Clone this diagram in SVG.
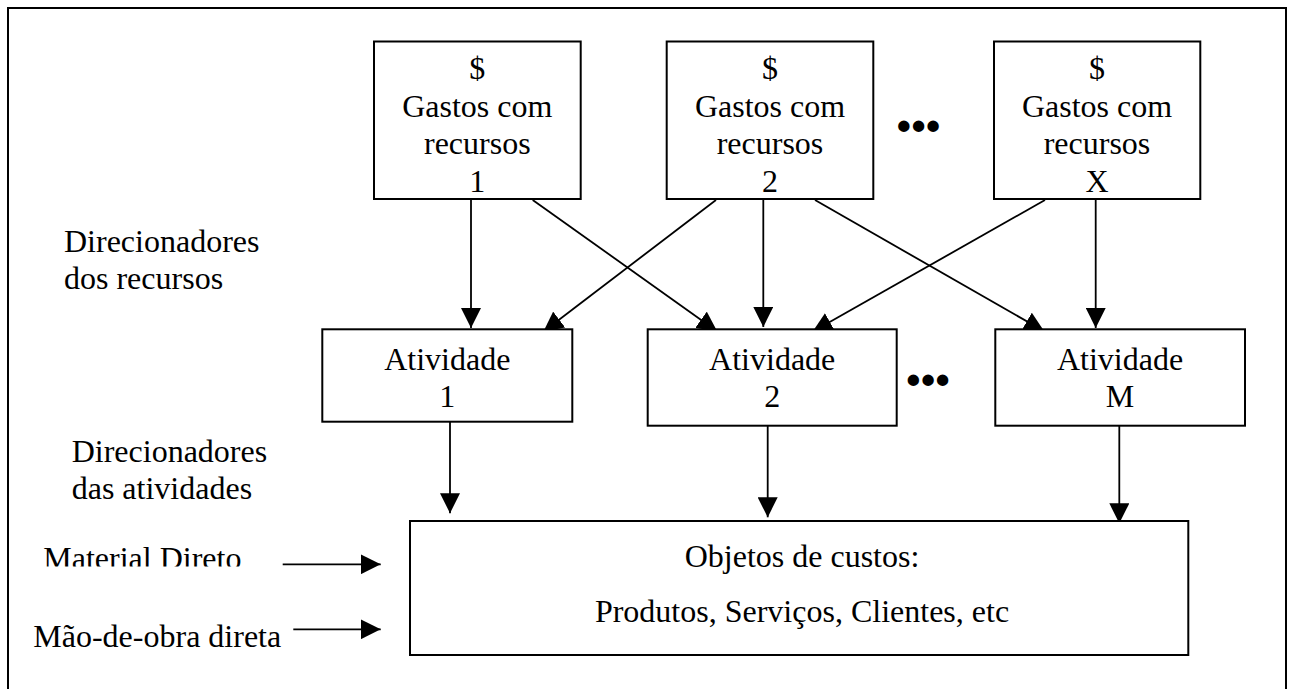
<svg xmlns="http://www.w3.org/2000/svg" width="1290" height="689" viewBox="0 0 1290 689">
<style>
text{font-family:"Liberation Serif","Times New Roman",serif;font-size:32px;fill:#000}
.c{text-anchor:middle}
.box{fill:#fff;stroke:#000;stroke-width:2}
.ln{stroke:#000;stroke-width:1.8;fill:none;marker-end:url(#ah)}
.dots{font-weight:bold;font-size:42px;text-anchor:middle}
</style>
<defs>
<marker id="ah" viewBox="0 0 20 20" refX="20" refY="10" markerWidth="20" markerHeight="20" markerUnits="userSpaceOnUse" orient="auto">
<path d="M0,0 L20,10 L0,20 z" fill="#000"/>
</marker>
<clipPath id="clipMat"><rect x="0" y="520" width="300" height="46.5"/></clipPath>
</defs>
<rect x="0" y="0" width="1290" height="689" fill="#fff"/>
<rect x="8" y="8" width="1278" height="720" fill="none" stroke="#000" stroke-width="2"/>

<g id="connectors">
<line class="ln" x1="471" y1="200" x2="471" y2="328"/>
<line class="ln" x1="532.7" y1="200" x2="717.3" y2="331.4"/>
<line class="ln" x1="716" y1="200" x2="543.3" y2="331.7"/>
<line class="ln" x1="763.3" y1="200" x2="763.3" y2="327"/>
<line class="ln" x1="815" y1="200" x2="1044.2" y2="331.3"/>
<line class="ln" x1="1045" y1="200" x2="812.5" y2="331.8"/>
<line class="ln" x1="1095.7" y1="200" x2="1095.7" y2="328"/>
<line class="ln" x1="450" y1="421.7" x2="450" y2="513.3"/>
<line class="ln" x1="767.7" y1="425.7" x2="767.7" y2="517.3"/>
<line class="ln" x1="1119.3" y1="423" x2="1119.3" y2="523.3"/>
<line class="ln" x1="282.7" y1="564.3" x2="380.7" y2="564.3"/>
<line class="ln" x1="293.3" y1="629.3" x2="380.7" y2="629.3"/>
</g>

<g id="gastos1">
<rect class="box" x="374" y="41.5" width="206.7" height="157.5"/>
<text class="c" x="477.3" y="79">$</text>
<text class="c" x="477.3" y="116.5">Gastos com</text>
<text class="c" x="477.3" y="154">recursos</text>
<text class="c" x="477.3" y="191.5">1</text>
</g>
<g id="gastos2">
<rect class="box" x="666.7" y="41.5" width="206.6" height="157.5"/>
<text class="c" x="770" y="79">$</text>
<text class="c" x="770" y="116.5">Gastos com</text>
<text class="c" x="770" y="154">recursos</text>
<text class="c" x="770" y="191.5">2</text>
</g>
<g id="gastosX">
<rect class="box" x="994" y="41.5" width="206.3" height="157.5"/>
<text class="c" x="1097" y="79">$</text>
<text class="c" x="1097" y="116.5">Gastos com</text>
<text class="c" x="1097" y="154">recursos</text>
<text class="c" x="1097" y="191.5">X</text>
</g>
<g id="dots-top"><text class="dots" x="918.5" y="140">•••</text></g>

<g id="atividade1">
<rect class="box" x="322.3" y="329.3" width="250" height="92.4"/>
<text class="c" x="447.3" y="369.5">Atividade</text>
<text class="c" x="447.3" y="406.5">1</text>
</g>
<g id="atividade2">
<rect class="box" x="647.7" y="329.3" width="249" height="96.4"/>
<text class="c" x="772.2" y="369.5">Atividade</text>
<text class="c" x="772.2" y="406.5">2</text>
</g>
<g id="atividadeM">
<rect class="box" x="995.3" y="329.3" width="249.7" height="96.4"/>
<text class="c" x="1120" y="369.5">Atividade</text>
<text class="c" x="1120" y="406.5">M</text>
</g>
<g id="dots-mid"><text class="dots" x="928" y="393.5">•••</text></g>

<g id="objetos">
<rect class="box" x="410" y="521" width="778.3" height="134"/>
<text class="c" x="802" y="567.3">Objetos de custos:</text>
<text class="c" x="802" y="622.3">Produtos, Serviços, Clientes, etc</text>
</g>

<g id="label-recursos">
<text x="64" y="252">Direcionadores</text>
<text x="64" y="288.5">dos recursos</text>
</g>
<g id="label-atividades">
<text x="71.7" y="461.7">Direcionadores</text>
<text x="71.7" y="499.3">das atividades</text>
</g>
<g id="label-material">
<text x="43.3" y="568.5" clip-path="url(#clipMat)">Material Direto</text>
</g>
<g id="label-mao">
<text x="33.3" y="647">Mão-de-obra direta</text>
</g>
</svg>
